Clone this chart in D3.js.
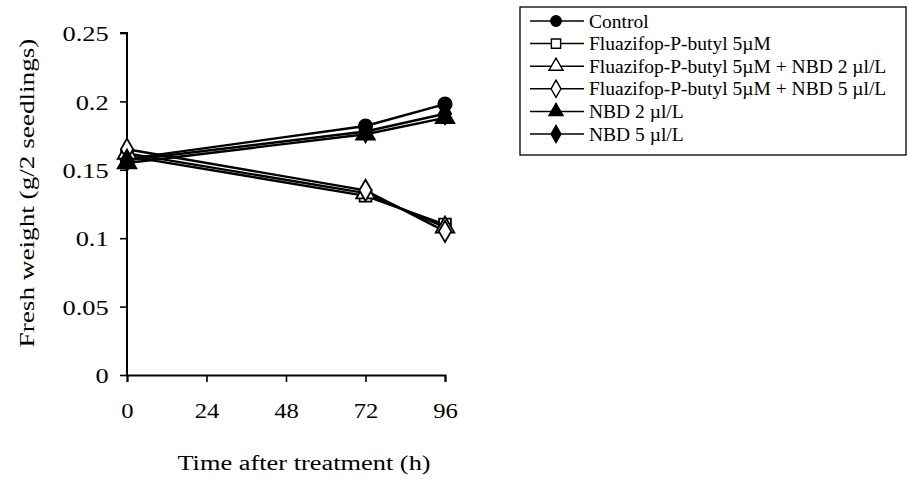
<!DOCTYPE html>
<html>
<head>
<meta charset="utf-8">
<script src="https://cdn.jsdelivr.net/npm/d3@7"></script>
<style>
  html, body { margin: 0; padding: 0; background: #fff; }
  svg { display: block; font-family: "Liberation Serif", "Times New Roman", serif; }
</style>
</head>
<body>
<svg id="chart" width="909" height="481"></svg>
<script>
// Sampling times (hours after treatment)
const times = [0, 72, 96];

// Fresh weight (g / 2 seedlings) per treatment
const seriesNames = [
  "Control",
  "Fluazifop-P-butyl 5\u00b5M",
  "Fluazifop-P-butyl 5\u00b5M + NBD 2 \u00b5l/L",
  "Fluazifop-P-butyl 5\u00b5M + NBD 5 \u00b5l/L",
  "NBD 2 \u00b5l/L",
  "NBD 5 \u00b5l/L"
];
const control      = [0.158, 0.182, 0.198];
const fluazifop    = [0.160, 0.131, 0.110];
const fluazNbd2    = [0.162, 0.133, 0.108];
const fluazNbd5    = [0.165, 0.135, 0.105];
const nbd2         = [0.155, 0.176, 0.188];
const nbd5         = [0.157, 0.178, 0.191];
const seriesValues = [control, fluazifop, fluazNbd2, fluazNbd5, nbd2, nbd5];

// Marker shape and fill for each treatment
const markerShapes = [d3.symbolCircle, d3.symbolSquare, d3.symbolTriangle, d3.symbolDiamond, d3.symbolTriangle, d3.symbolDiamond];
const markerFilled = [true, false, false, false, true, true];

const xTicks = [0, 24, 48, 72, 96];
const yTicks = [0, 0.05, 0.1, 0.15, 0.2, 0.25];

const svg = d3.select("#chart");

const x = d3.scaleLinear().domain([0, 96]).range([127, 445]);
const y = d3.scaleLinear().domain([0, 0.25]).range([375, 33]);

// Axes
const yAxis = d3.axisLeft(y).tickValues(yTicks)
  .tickFormat(d => d === 0 ? "0" : String(+d.toFixed(2)))
  .tickSize(7).tickPadding(10);
const xAxis = d3.axisBottom(x).tickValues(xTicks)
  .tickFormat(d3.format("d")).tickSize(7).tickPadding(20);

const gy = svg.append("g").attr("transform", `translate(${x(0)},0)`).call(yAxis);
const gx = svg.append("g").attr("transform", `translate(0,${y(0)})`).call(xAxis);
[gx, gy].forEach(g => {
  g.select(".domain").attr("stroke", "#000").attr("stroke-width", 2);
  g.selectAll(".tick line").attr("stroke", "#000").attr("stroke-width", 1.6);
  g.selectAll(".tick text").attr("fill", "#000")
    .style("font-family", "Liberation Serif").style("font-size", "22px");
});
gy.select(".domain").attr("d", `M-7,${y(0.25)}H0V${y(0)}`);
// Slightly wide lettering on the tick labels
gy.selectAll(".tick text").attr("dy", "0.35em")
  .attr("transform", "translate(-10,0) scale(1.2,1) translate(10,0)");
gx.selectAll(".tick text").attr("transform", "scale(1.12,1)");

// Axis titles
svg.append("text")
  .attr("transform", `translate(34,193) rotate(-90) scale(1.36,1)`)
  .attr("text-anchor", "middle")
  .style("font-size", "20px")
  .text("Fresh weight (g/2 seedlings)");

svg.append("text")
  .attr("transform", `translate(304,470) scale(1.32,1)`)
  .attr("text-anchor", "middle")
  .style("font-size", "20px")
  .text("Time after treatment (h)");

// Lines and markers
const line = d3.line().x((d, i) => x(times[i])).y(d => y(d));
const symbolSize = i => markerShapes[i] === d3.symbolTriangle ? 150 : (markerShapes[i] === d3.symbolDiamond ? 130 : 140);

seriesValues.forEach((vals) => {
  svg.append("path")
    .datum(vals)
    .attr("d", line)
    .attr("fill", "none")
    .attr("stroke", "#000")
    .attr("stroke-width", 2.4);
});
seriesValues.forEach((vals, i) => {
  svg.append("g").selectAll("path")
    .data(vals)
    .join("path")
    .attr("transform", (d, j) => `translate(${x(times[j])},${y(d)})`)
    .attr("d", d3.symbol().type(markerShapes[i]).size(symbolSize(i)))
    .attr("fill", markerFilled[i] ? "#000" : "#fff")
    .attr("stroke", "#000")
    .attr("stroke-width", 1.8);
});

// Legend
const legend = svg.append("g");
legend.append("rect")
  .attr("x", 520).attr("y", 7).attr("width", 386).attr("height", 148)
  .attr("fill", "#fff").attr("stroke", "#000").attr("stroke-width", 1.3);

const rowY = d3.scalePoint().domain(d3.range(seriesNames.length)).range([21, 134]);
seriesNames.forEach((name, i) => {
  const ly = rowY(i);
  legend.append("line")
    .attr("x1", 530).attr("x2", 584).attr("y1", ly).attr("y2", ly)
    .attr("stroke", "#000").attr("stroke-width", 1.5);
  legend.append("path")
    .attr("transform", `translate(556,${ly})`)
    .attr("d", d3.symbol().type(markerShapes[i]).size(85))
    .attr("fill", markerFilled[i] ? "#000" : "#fff")
    .attr("stroke", "#000").attr("stroke-width", 1.4);
  legend.append("text")
    .attr("x", 589).attr("y", ly + 6.5)
    .style("font-size", "19.5px")
    .text(name);
});
</script>
</body>
</html>
